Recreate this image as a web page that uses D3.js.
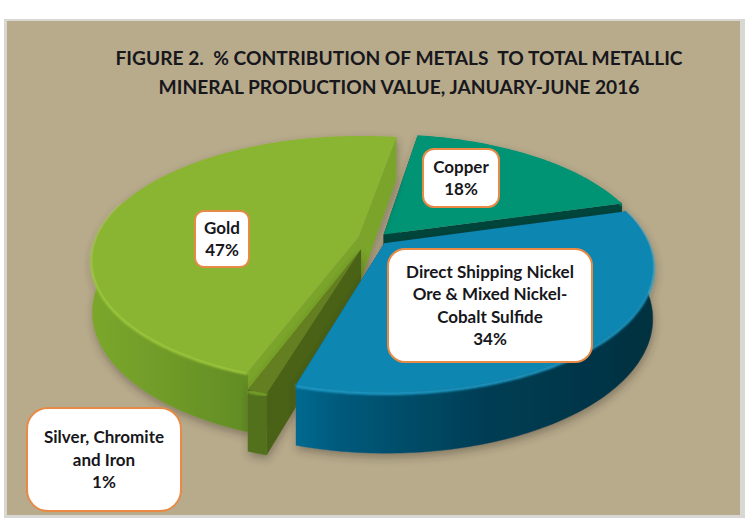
<!DOCTYPE html>
<html><head><meta charset="utf-8">
<script src="https://cdn.jsdelivr.net/npm/d3@7/dist/d3.min.js"></script>
<style>html,body{margin:0;padding:0;background:#fff}svg{display:block}</style>
</head><body><svg id="c" width="747" height="523"></svg>
<script>
const categories = ["Copper", "Direct Shipping Nickel Ore & Mixed Nickel-Cobalt Sulfide", "Silver, Chromite and Iron", "Gold"];
const shares = [18, 34, 1, 47];
const titleLines = ["FIGURE 2.  % CONTRIBUTION OF METALS  TO TOTAL METALLIC", "MINERAL PRODUCTION VALUE, JANUARY-JUNE 2016"];
const labelLines = [["Copper", "18%"], ["Direct Shipping Nickel", "Ore & Mixed Nickel-", "Cobalt Sulfide", "34%"], ["Silver, Chromite", "and Iron", "1%"], ["Gold", "47%"]];

// layout, kept apart from the data
const view = {cx: 375, cy: 239, rx: 262, ky: 120, perspX: 0.18, perspY: 0.18, depth: 50, startDeg: 9.2};
const explode = [0.05, 0.05, 0.09, 0.065];
const drift = [0, 0, -0.025, 0];
const callouts = [
  {x: 423, y: 149, w: 76, h: 58, r: 11},
  {x: 388, y: 249, w: 204, h: 113, r: 17},
  {x: 27, y: 408, w: 154, h: 103, r: 21},
  {x: 195, y: 211, w: 54, h: 56, r: 9}
];
const looks = [
  {top: "#059475", rim: "#059475", cut: "#00453a", wall: [["0", "#006650"], ["1", "#00453a"]]},
  {top: "#0a86b2", rim: "#1a9ac6", cut: "#04506e", wall: [["0", "#046a90"], ["0.12", "#025a7c"], ["0.5", "#023f56"], ["1", "#03303f"]]},
  {top: "#647f22", rim: "#76a02c", cut: "#4a6216", wall: [["0", "#52701b"], ["1", "#4a6418"]]},
  {top: "#8ab532", rim: "#9cc83c", cut: "#7aa52c", wall: [["0", "#7ba72c"], ["0.5", "#6f9a28"], ["1", "#628c24"]]}
];

const svg = d3.select("#c");
const defs = svg.append("defs");
const shadow = defs.append("filter").attr("id", "shadow").attr("x", "-15%").attr("y", "-15%").attr("width", "130%").attr("height", "130%");
shadow.append("feDropShadow").attr("dx", 1).attr("dy", 4).attr("stdDeviation", 4).attr("flood-color", "#3a3320").attr("flood-opacity", 0.4);
defs.append("filter").attr("id", "soft").append("feGaussianBlur").attr("stdDeviation", 1.1);
defs.append("filter").attr("id", "crisp").append("feGaussianBlur").attr("stdDeviation", 0.35);

looks.forEach((l, i) => {
  const g = defs.append("linearGradient").attr("id", "wall" + i).attr("gradientUnits", "userSpaceOnUse")
    .attr("x1", i === 3 ? 92 : 295).attr("x2", i === 3 ? 250 : 655).attr("y1", 0).attr("y2", 0);
  l.wall.forEach(s => g.append("stop").attr("offset", s[0]).attr("stop-color", s[1]));
});

// frame
svg.append("rect").attr("x", 4).attr("y", 19).attr("width", 741).attr("height", 499).attr("fill", "#d9d7d3");
svg.append("rect").attr("x", 7).attr("y", 21).attr("width", 733).attr("height", 494).attr("fill", "#b8ab8c");

// planar pie coordinates -> screen, with perspective
function project(u, v, z) {
  const sx = 1 / (1 + view.perspX * v), sy = 1 / (1 + view.perspY * v);
  return [view.cx + u * view.rx * sx, view.cy - v * view.ky * sy + z * view.depth * sy];
}
const pie = d3.pie().sort(null).value(d => d)
  .startAngle(view.startDeg * Math.PI / 180)
  .endAngle((view.startDeg + 360) * Math.PI / 180);
const arcs = pie(shares);
const line = d3.line();
const closed = pts => line(pts) + "Z";

function wedge(a, i) {
  const mid = (a.startAngle + a.endAngle) / 2;
  const ox = explode[i] * Math.sin(mid) + drift[i], oy = explode[i] * Math.cos(mid);
  const n = Math.max(4, Math.round((a.endAngle - a.startAngle) * 60));
  const ts = d3.range(n + 1).map(k => a.startAngle + (a.endAngle - a.startAngle) * k / n);
  const rim = ts.map(t => [ox + Math.sin(t), oy + Math.cos(t)]);
  const front = ts.filter(t => Math.cos(t) < 0.3).map(t => [ox + Math.sin(t), oy + Math.cos(t)]);
  return {apex: [ox, oy], rim, front};
}

const order = [0, 3, 2, 1];
order.forEach(i => {
  const look = looks[i], w = wedge(arcs[i], i);
  const P = (p, z) => project(p[0], p[1], z);
  const g = svg.append("g").attr("filter", "url(#shadow)").attr("data-category", categories[i]);
  const rimTop = w.rim.map(p => P(p, 0));
  const first = w.rim[0], last = w.rim[w.rim.length - 1];
  // radial walls
  g.append("path").attr("d", closed([P(w.apex, 0), P(first, 0), P(first, 1), P(w.apex, 1)])).attr("fill", look.cut);
  g.append("path").attr("d", closed([P(w.apex, 0), P(last, 0), P(last, 1), P(w.apex, 1)])).attr("fill", look.cut);
  // outer wall on the side that faces the viewer
  if (w.front.length > 1) {
    const frontTop = w.front.map(p => P(p, 0)), frontBot = w.front.map(p => P(p, 1));
    g.append("path").attr("d", closed(frontTop.concat(frontBot.slice().reverse()))).attr("fill", `url(#wall${i})`).attr("stroke", `url(#wall${i})`).attr("stroke-width", 0.5);
    // bevel highlight under the top edge
    g.append("path").attr("d", line(frontTop.map(p => [p[0], p[1] + 1.5]))).attr("fill", "none").attr("stroke", look.rim).attr("stroke-width", 3.5).attr("filter", "url(#soft)");
  }
  // top face
  g.append("path").attr("d", closed([P(w.apex, 0)].concat(rimTop))).attr("fill", look.top).attr("filter", "url(#crisp)");
});

// title
svg.append("g").selectAll("text").data(titleLines).join("text")
  .attr("x", 399).attr("y", (d, i) => 65 + i * 28.5)
  .attr("text-anchor", "middle").attr("xml:space", "preserve")
  .style("white-space", "pre")
  .attr("font-family", "Lato, 'Open Sans', sans-serif").attr("font-weight", 700).attr("font-size", 19.2)
  .attr("fill", "#17171c").text(d => d);

// callouts
callouts.forEach((c, i) => {
  const g = svg.append("g");
  g.append("rect").attr("x", c.x).attr("y", c.y).attr("width", c.w).attr("height", c.h).attr("rx", c.r).attr("ry", c.r)
    .attr("fill", "#fff").attr("stroke", "#e88a45").attr("stroke-width", 2);
  const lh = 22.5, lines = labelLines[i];
  const y0 = c.y + c.h / 2 - (lines.length - 1) * lh / 2 + 6;
  g.selectAll("text").data(lines).join("text")
    .attr("x", c.x + c.w / 2).attr("y", (d, k) => y0 + k * lh).attr("text-anchor", "middle")
    .attr("font-family", "Lato, 'Open Sans', sans-serif").attr("font-weight", 700).attr("font-size", 17)
    .attr("fill", "#17171c").text(d => d);
});
</script></body></html>
